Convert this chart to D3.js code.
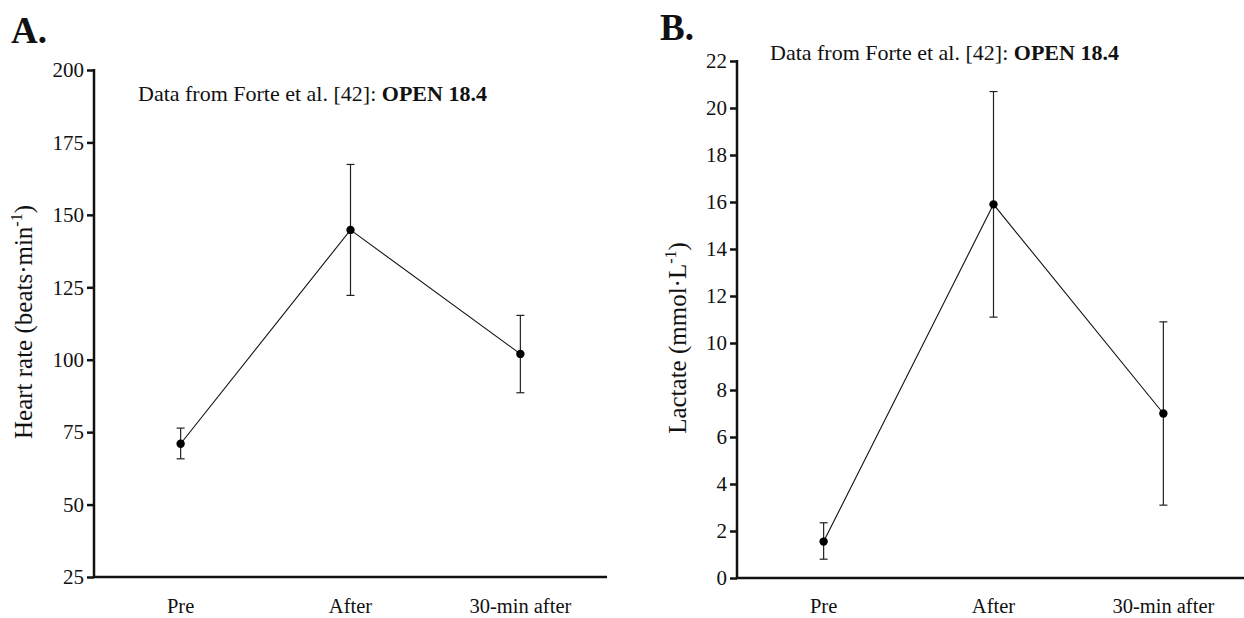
<!DOCTYPE html>
<html>
<head>
<meta charset="utf-8">
<script src="https://cdn.jsdelivr.net/npm/d3@7"></script>
<style>
  body { margin: 0; background: #fff; }
  svg { display: block; }
  text { font-family: "Liberation Serif", "DejaVu Serif", serif; fill: #111; }
</style>
</head>
<body>
<svg id="chart" width="1244" height="618"></svg>
<script>
// ── data ─────────────────────────────
const categories = ["Pre", "After", "30-min after"];

const hrMean  = [71, 144.8, 102];
const hrLow   = [65.8, 122.2, 88.6];
const hrHigh  = [76.4, 167.4, 115.3];
const hrTicks = [25, 50, 75, 100, 125, 150, 175, 200];

const lacMean  = [1.55, 15.9, 7.0];
const lacLow   = [0.8, 11.1, 3.1];
const lacHigh  = [2.35, 20.7, 10.9];
const lacTicks = [0, 2, 4, 6, 8, 10, 12, 14, 16, 18, 20, 22];

const svg = d3.select("#chart");

// ── panel builder ─────────────────────
function panel(opt) {
  const g = svg.append("g");

  const x = d3.scalePoint().domain(categories)
    .range([opt.x0, opt.x1]).padding(0.51);
  const y = d3.scaleLinear().domain(opt.domain).range([opt.yb, opt.yt]);

  // y axis
  const yAx = g.append("g").attr("transform", `translate(${opt.x0},0)`)
    .call(d3.axisLeft(y).tickValues(opt.ticks).tickSize(7).tickPadding(3));
  yAx.select(".domain").attr("stroke", "#111").attr("stroke-width", 2.5)
    .attr("d", `M0,${opt.yt - 1}V${opt.yb}`);
  yAx.selectAll(".tick line").attr("stroke", "#111").attr("stroke-width", 2.5);
  yAx.selectAll(".tick text").attr("font-size", 21).attr("fill", "#111")
    .attr("font-family", "Liberation Serif");

  // x axis line
  g.append("line")
    .attr("x1", opt.x0 - 1).attr("x2", opt.x1)
    .attr("y1", opt.yb).attr("y2", opt.yb)
    .attr("stroke", "#111").attr("stroke-width", 2.5);

  // category labels
  g.selectAll(".cat").data(categories).join("text")
    .attr("x", d => x(d)).attr("y", 613)
    .attr("text-anchor", "middle").attr("font-size", 20.5)
    .text(d => d);

  // error bars
  const cap = 4;
  categories.forEach((c, i) => {
    const cx = x(c);
    g.append("line").attr("x1", cx).attr("x2", cx)
      .attr("y1", y(opt.low[i])).attr("y2", y(opt.high[i]))
      .attr("stroke", "#222").attr("stroke-width", 1.2);
    [opt.low[i], opt.high[i]].forEach(v => {
      g.append("line").attr("x1", cx - cap).attr("x2", cx + cap)
        .attr("y1", y(v)).attr("y2", y(v))
        .attr("stroke", "#222").attr("stroke-width", 1.2);
    });
  });

  // line + dots
  const line = d3.line().x((d, i) => x(categories[i])).y(d => y(d));
  g.append("path").datum(opt.mean).attr("d", line)
    .attr("fill", "none").attr("stroke", "#111").attr("stroke-width", 1.1);
  g.selectAll(".dot").data(opt.mean).join("circle")
    .attr("cx", (d, i) => x(categories[i])).attr("cy", d => y(d))
    .attr("r", 4.2).attr("fill", "#000");

  // panel letter
  g.append("text").attr("x", opt.letterX).attr("y", opt.letterY)
    .attr("font-size", 37).attr("font-weight", "bold").text(opt.letter);

  // annotation
  const note = g.append("text").attr("x", opt.noteX).attr("y", opt.noteY)
    .attr("font-size", 22);
  note.append("tspan").text("Data from Forte et al. [42]: ");
  note.append("tspan").attr("font-weight", "bold").text("OPEN 18.4");

  // y label
  const lab = g.append("text")
    .attr("transform", `translate(${opt.labX},${opt.labY}) rotate(-90)`)
    .attr("text-anchor", "middle").attr("font-size", 25);
  lab.append("tspan").text(opt.label);
  lab.append("tspan").attr("font-size", 16).attr("dy", -10).text("-1");
  lab.append("tspan").attr("dy", 10).text(")");
}

panel({
  x0: 94, x1: 607, yb: 577, yt: 70, domain: [25, 200], ticks: hrTicks,
  mean: hrMean, low: hrLow, high: hrHigh,
  letter: "A.", letterX: 11, letterY: 43, noteX: 138, noteY: 101,
  label: "Heart rate (beats·min", labX: 32, labY: 322
});

panel({
  x0: 737, x1: 1250, yb: 578, yt: 61, domain: [0, 22], ticks: lacTicks,
  mean: lacMean, low: lacLow, high: lacHigh,
  letter: "B.", letterX: 660, letterY: 40, noteX: 770, noteY: 60,
  label: "Lactate (mmol·L", labX: 686, labY: 338
});
</script>
</body>
</html>
